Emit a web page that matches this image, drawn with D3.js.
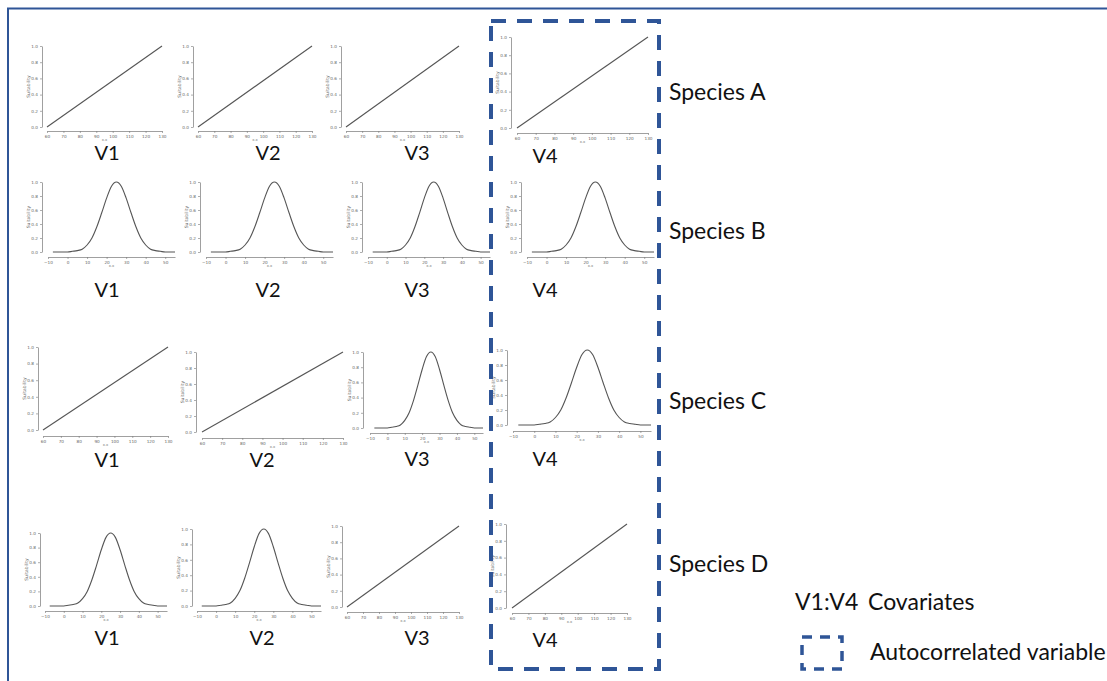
<!DOCTYPE html>
<html>
<head>
<meta charset="utf-8">
<script src="https://cdn.jsdelivr.net/npm/d3@7/dist/d3.min.js"></script>
<style>
  html, body { margin: 0; padding: 0; background: #fff; }
  svg { display: block; }
</style>
</head>
<body>
<svg id="chart" width="1107" height="681"></svg>
<script>
// ---- data ----
const species = ["Species A", "Species B", "Species C", "Species D"];
const variables = ["V1", "V2", "V3", "V4"];
// response shape of each species (row) to each covariate (column)
const responseShape = [
  ["linear", "linear", "linear", "linear"],
  ["gaussian", "gaussian", "gaussian", "gaussian"],
  ["linear", "linear", "gaussian", "gaussian"],
  ["gaussian", "gaussian", "linear", "linear"]
];
// linear response: covariate value vs suitability
const linearX = [60, 130];
const linearSuit = [0, 1];
// bell-shaped response: covariate value vs suitability
const gaussX = [-7.5, -5, -2.5, 0, 2.5, 5, 7.5, 10, 12.5, 15, 17.5, 20, 22.5, 25,
                27.5, 30, 32.5, 35, 37.5, 40, 42.5, 45, 47.5, 50, 52.5, 55];
const gaussSuit = [0, 0, 0, 0, 0.01, 0.02, 0.04, 0.10, 0.20, 0.36, 0.56, 0.77, 0.94, 1.00,
                   0.94, 0.77, 0.56, 0.36, 0.20, 0.10, 0.04, 0.02, 0.01, 0, 0, 0];
const linearTicks = [60, 70, 80, 90, 100, 110, 120, 130];
const gaussTicks = [-10, 0, 10, 20, 30, 40, 50];
const suitTicks = [0, 0.2, 0.4, 0.6, 0.8, 1.0];
const legendKey = "V1:V4";
const legendCovariates = "Covariates";
const legendAuto = "Autocorrelated variable";

// ---- layout: per panel pixel geometry ----
// ax: y-axis x, xr: pixel range of x domain, yr: [pixel of 0, pixel of 1], bx: x-axis y
const layout = [
  [ {ax: 42, xr: [47, 162], yr: [127, 46], bx: 131},
    {ax: 193, xr: [198, 312], yr: [127, 46], bx: 131},
    {ax: 341, xr: [346, 459], yr: [127, 46], bx: 131},
    {ax: 511, xr: [517, 648], yr: [128, 37], bx: 133} ],
  [ {ax: 42, xr: [48, 175], yr: [252, 182], bx: 257},
    {ax: 200, xr: [206, 333], yr: [252, 182], bx: 257},
    {ax: 362, xr: [368, 490], yr: [252, 182], bx: 257},
    {ax: 521, xr: [527, 654], yr: [252, 182], bx: 257} ],
  [ {ax: 38, xr: [43, 168], yr: [430, 347], bx: 436},
    {ax: 196, xr: [202, 343], yr: [432, 352], bx: 438},
    {ax: 363, xr: [370, 483], yr: [428, 352], bx: 433},
    {ax: 507, xr: [513, 651], yr: [425, 350], bx: 431} ],
  [ {ax: 40, xr: [45, 167], yr: [606, 533], bx: 611},
    {ax: 192, xr: [197, 321], yr: [606, 529], bx: 611},
    {ax: 342, xr: [347, 459], yr: [607, 526], bx: 612},
    {ax: 506, xr: [512, 627], yr: [608, 524], bx: 613} ]
];
const varLabelPos = [
  [[107, 160], [268, 160], [417, 160], [545, 163]],
  [[107, 297], [268, 297], [417, 297], [545, 297]],
  [[107, 467], [262, 467], [417, 466], [545, 466]],
  [[107, 645], [262, 645], [417, 645], [545, 647]]
];
const speciesY = [100, 239, 409, 572];

const blue = "#2f5597";
const font = "Lato, 'Open Sans', sans-serif";
const svg = d3.select("#chart");

// outer frame (runs off the right and bottom edges)
svg.append("rect")
  .attr("x", 8).attr("y", 8.5)
  .attr("width", 1120).attr("height", 700)
  .attr("fill", "none").attr("stroke", blue).attr("stroke-width", 2);

const line = d3.line().curve(d3.curveMonotoneX);

responseShape.forEach((row, r) => {
  row.forEach((shape, c) => {
    const L = layout[r][c];
    const g = svg.append("g");
    const isLin = shape === "linear";
    const xDom = isLin ? [60, 130] : [-10, 55];
    const x = d3.scaleLinear().domain(xDom).range(L.xr);
    const y = d3.scaleLinear().domain([0, 1]).range(L.yr);

    // y axis
    const ya = g.append("g").attr("transform", `translate(${L.ax},0)`)
      .call(d3.axisLeft(y).tickValues(suitTicks).tickSize(2).tickSizeOuter(0)
        .tickPadding(2).tickFormat(d3.format(".1f")));
    // x axis
    const xa = g.append("g").attr("transform", `translate(0,${L.bx})`)
      .call(d3.axisBottom(x).tickValues(isLin ? linearTicks : gaussTicks)
        .tickSize(2).tickSizeOuter(0).tickPadding(1));
    [ya, xa].forEach(a => {
      a.select(".domain").attr("stroke", "#777").attr("stroke-width", 0.7);
      a.selectAll(".tick line").attr("stroke", "#777").attr("stroke-width", 0.6);
      a.selectAll(".tick text").attr("font-size", 4.2).attr("fill", "#666")
        .attr("font-family", "DejaVu Sans");
    });
    xa.selectAll(".tick text").attr("dy", "0.9em");

    // axis titles
    g.append("text")
      .attr("transform", `translate(${L.ax - 12},${(L.yr[0] + L.yr[1]) / 2}) rotate(-90)`)
      .attr("text-anchor", "middle").attr("font-size", 4.5).attr("fill", "#666")
      .attr("font-family", "DejaVu Sans").text("Suitability");
    g.append("text")
      .attr("x", (L.xr[0] + L.xr[1]) / 2).attr("y", L.bx + 9.5)
      .attr("text-anchor", "middle").attr("font-size", 3.8).attr("fill", "#777")
      .attr("font-family", "DejaVu Sans").text("x.x");

    // response curve
    const xs = isLin ? linearX : gaussX;
    const ys = isLin ? linearSuit : gaussSuit;
    const pts = xs.map((v, i) => [x(v), y(ys[i])]);
    g.append("path").attr("d", line(pts))
      .attr("fill", "none").attr("stroke", "#555").attr("stroke-width", 1.1);

    // covariate label
    svg.append("text")
      .attr("x", varLabelPos[r][c][0]).attr("y", varLabelPos[r][c][1])
      .attr("text-anchor", "middle")
      .attr("font-family", font).attr("font-size", 20)
      .attr("fill", "#111").text(variables[c]);
  });
  svg.append("text")
    .attr("x", 669).attr("y", speciesY[r])
    .attr("font-family", font).attr("font-size", 23)
    .attr("fill", "#111").text(species[r]);
});

// autocorrelated-variable frame around the V4 column
svg.append("rect")
  .attr("x", 491).attr("y", 21).attr("width", 168).attr("height", 648)
  .attr("fill", "none").attr("stroke", blue).attr("stroke-width", 4)
  .attr("stroke-dasharray", "15 11");

// legend
svg.append("text").attr("x", 795).attr("y", 610)
  .attr("font-family", font).attr("font-size", 23)
  .attr("fill", "#111").text(legendKey);
svg.append("text").attr("x", 868).attr("y", 610)
  .attr("font-family", font).attr("font-size", 23)
  .attr("fill", "#111").text(legendCovariates);
svg.append("rect")
  .attr("x", 802).attr("y", 637).attr("width", 40).attr("height", 32)
  .attr("fill", "none").attr("stroke", blue).attr("stroke-width", 3.5)
  .attr("stroke-dasharray", "10 8");
svg.append("text").attr("x", 870).attr("y", 660)
  .attr("font-family", font).attr("font-size", 23)
  .attr("fill", "#111").text(legendAuto);
</script>
</body>
</html>
